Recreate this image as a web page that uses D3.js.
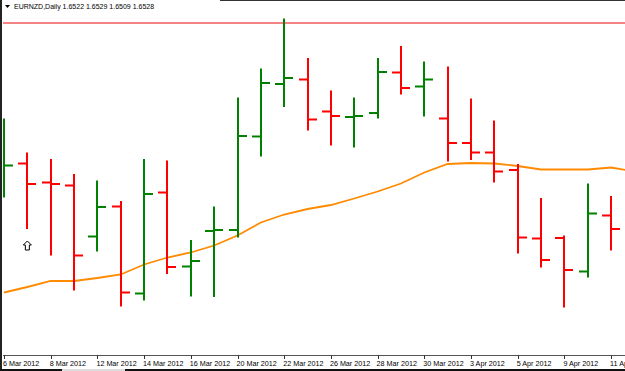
<!DOCTYPE html>
<html>
<head>
<meta charset="utf-8">
<script src="https://cdn.jsdelivr.net/npm/d3@7"></script>
<style>
  html, body { margin: 0; padding: 0; background: #fff; }
  svg { display: block; }
  text { font-family: "Liberation Sans", Arial, sans-serif; }
</style>
</head>
<body>
<div id="chart"></div>
<script>
// EURNZD daily, 6 Mar - 11 Apr 2012 (last entry is the bar just off the right edge)
const dates = ['6 Mar 2012', '7 Mar 2012', '8 Mar 2012', '9 Mar 2012', '12 Mar 2012', '13 Mar 2012',
    '14 Mar 2012', '15 Mar 2012', '16 Mar 2012', '19 Mar 2012', '20 Mar 2012', '21 Mar 2012',
    '22 Mar 2012', '23 Mar 2012', '26 Mar 2012', '27 Mar 2012', '28 Mar 2012', '29 Mar 2012',
    '30 Mar 2012', '2 Apr 2012', '3 Apr 2012', '4 Apr 2012', '5 Apr 2012', '6 Apr 2012',
    '9 Apr 2012', '10 Apr 2012', '11 Apr 2012', '12 Apr 2012'];

const opens = [1.6296, 1.6319, 1.6281, 1.6275, 1.6173, 1.6233, 1.6059, 1.6261, 1.6113, 1.6184,
    1.6186, 1.6373, 1.6478, 1.6487, 1.6423, 1.6412, 1.6420, 1.6501, 1.6473, 1.6409,
    1.6360, 1.6341, 1.6306, 1.6169, 1.6170, 1.6103, 1.6215];
const highs = [1.6409, 1.6341, 1.6328, 1.6298, 1.6285, 1.6244, 1.6328, 1.6325, 1.6166, 1.6233,
    1.6451, 1.6509, 1.6609, 1.6530, 1.6465, 1.6451, 1.6530, 1.6554, 1.6523, 1.6513,
    1.6449, 1.6405, 1.6318, 1.6250, 1.6175, 1.6279, 1.6254];
const lows = [1.6251, 1.6188, 1.6135, 1.6065, 1.6143, 1.6033, 1.6045, 1.6098, 1.6053, 1.6052,
    1.6171, 1.6333, 1.6432, 1.6385, 1.6355, 1.6351, 1.6409, 1.6457, 1.6413, 1.6323,
    1.6326, 1.6281, 1.6139, 1.6111, 1.6031, 1.6091, 1.6145];
const closes = [1.6315, 1.6278, 1.6278, 1.6135, 1.6232, 1.6061, 1.6258, 1.6112, 1.6124, 1.6186,
    1.6374, 1.6480, 1.6490, 1.6407, 1.6414, 1.6414, 1.6502, 1.6470, 1.6487, 1.6360,
    1.6341, 1.6303, 1.6171, 1.6126, 1.6106, 1.6219, 1.6188];

// moving average
const maValues = [1.6061, 1.6072, 1.6084, 1.6084, 1.6090, 1.6097, 1.6117, 1.6131, 1.6141, 1.6155,
    1.6175, 1.6201, 1.6217, 1.6228, 1.6236, 1.6249, 1.6263, 1.6279, 1.6301, 1.6318,
    1.6320, 1.6319, 1.6314, 1.6307, 1.6307, 1.6307, 1.6311, 1.6303];

const levelPrice = 1.6600;     // horizontal line
const arrowPrice = 1.6146;     // up arrow object
const arrowBar = 1;
const header = 'EURNZD,Daily  1.6522 1.6529 1.6509 1.6528';

const width = 625, height = 371;
const plot = { left: 3, right: 625, top: 0, bottom: 355 };

const svg = d3.select('#chart').append('svg')
    .attr('width', width).attr('height', height);

svg.append('defs').append('clipPath').attr('id', 'plotClip')
    .append('rect')
    .attr('x', plot.left).attr('y', plot.top)
    .attr('width', plot.right - plot.left).attr('height', plot.bottom - plot.top);

const x = d3.scalePoint()
    .domain(dates)
    .range([4, 4 + 23.35 * (dates.length - 1)]);

const y = d3.scaleLinear()
    .domain([1.5936, 1.6618])
    .range([355, 14]);

const g = svg.append('g').attr('clip-path', 'url(#plotClip)');

// level line
g.append('line')
    .attr('x1', 0).attr('x2', plot.right)
    .attr('y1', y(levelPrice)).attr('y2', y(levelPrice))
    .attr('stroke', '#f48484').attr('stroke-width', 2);

// moving average
const line = d3.line()
    .x((d, i) => x(dates[i]))
    .y(d => y(d));

g.append('path')
    .datum(maValues)
    .attr('d', line)
    .attr('fill', 'none')
    .attr('stroke', '#ff8a00')
    .attr('stroke-width', 1.8);

// OHLC bars
const bars = opens.map((o, i) => ({
    date: dates[i], open: o, high: highs[i], low: lows[i], close: closes[i]
}));
const tick = 9;

const barG = g.selectAll('.bar').data(bars).join('g')
    .attr('class', 'bar')
    .attr('stroke', d => d.close >= d.open ? '#008200' : '#ff0000')
    .attr('stroke-width', 2);

barG.append('line')
    .attr('x1', d => Math.round(x(d.date))).attr('x2', d => Math.round(x(d.date)))
    .attr('y1', d => y(d.high)).attr('y2', d => y(d.low));
barG.append('line')
    .attr('x1', d => Math.round(x(d.date)) - tick).attr('x2', d => Math.round(x(d.date)))
    .attr('y1', d => y(d.open)).attr('y2', d => y(d.open));
barG.append('line')
    .attr('x1', d => Math.round(x(d.date))).attr('x2', d => Math.round(x(d.date)) + tick)
    .attr('y1', d => y(d.close)).attr('y2', d => y(d.close));

// up arrow object
const ax = x(dates[arrowBar]), ay = y(arrowPrice);
const arrow = d3.path();
arrow.moveTo(ax, ay - 9);
arrow.lineTo(ax + 4, ay - 5);
arrow.lineTo(ax + 2, ay - 5);
arrow.lineTo(ax + 2, ay);
arrow.lineTo(ax - 2, ay);
arrow.lineTo(ax - 2, ay - 5);
arrow.lineTo(ax - 4, ay - 5);
arrow.closePath();
g.append('path')
    .attr('d', arrow.toString())
    .attr('fill', '#fff')
    .attr('stroke', '#000')
    .attr('stroke-width', 1);

// header
svg.append('path')
    .attr('d', 'M5,5 L10,5 L7.5,8 Z')
    .attr('fill', '#000');
svg.append('text')
    .attr('x', 14).attr('y', 9)
    .attr('font-size', '7px')
    .attr('fill', '#000')
    .text(header);

// frame
svg.append('line')
    .attr('x1', 1).attr('x2', 1).attr('y1', 0).attr('y2', height)
    .attr('stroke', '#222').attr('stroke-width', 2);
svg.append('line')
    .attr('x1', 220).attr('x2', width).attr('y1', 0.5).attr('y2', 0.5)
    .attr('stroke', '#333').attr('stroke-width', 1);

// time axis
const axisG = svg.append('g');
axisG.append('line')
    .attr('x1', plot.left).attr('x2', plot.right)
    .attr('y1', plot.bottom + 0.5).attr('y2', plot.bottom + 0.5)
    .attr('stroke', '#555');

const tickDates = dates.filter((d, i) => i % 2 === 0);
axisG.selectAll('.tk').data(tickDates).join('line')
    .attr('class', 'tk')
    .attr('x1', d => Math.round(x(d)) + 0.5).attr('x2', d => Math.round(x(d)) + 0.5)
    .attr('y1', plot.bottom).attr('y2', plot.bottom + 4)
    .attr('stroke', '#333');
axisG.selectAll('.lbl').data(tickDates).join('text')
    .attr('class', 'lbl')
    .attr('x', d => x(d) - 1).attr('y', 366)
    .attr('font-size', '7.2px')
    .attr('fill', '#000')
    .text(d => d);

// bottom strip
svg.append('rect')
    .attr('x', 0).attr('y', 369).attr('width', width).attr('height', 2)
    .attr('fill', '#111');
svg.append('rect')
    .attr('x', 62).attr('y', 369).attr('width', 63).attr('height', 2)
    .attr('fill', '#ddd');
</script>
</body>
</html>
